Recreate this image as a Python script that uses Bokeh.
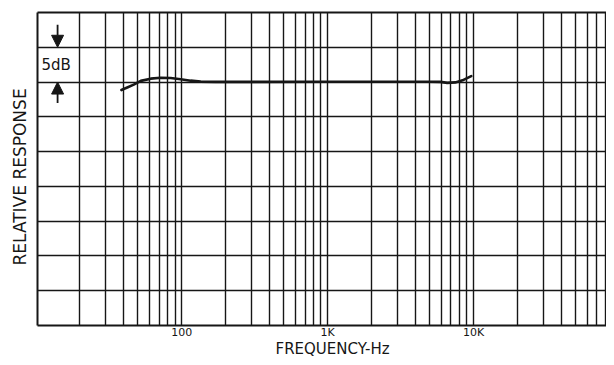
from bokeh.plotting import figure
from bokeh.models import FixedTicker, Range1d, Arrow, NormalHead, Label, LogAxis, Title
from bokeh.embed import file_html
from bokeh.resources import INLINE

# Response curve (frequency in Hz, relative response in dB)
freq_hz = [38.6, 42.7, 46.9, 52.4, 61.3, 71.8, 84.0, 98.4, 115, 135, 171, 300,
           1000, 3000, 5000, 5940, 6600, 7500, 8400, 9640]
response_db = [-1.15, -0.75, -0.37, 0.17, 0.49, 0.61, 0.58, 0.41, 0.20, 0.06, 0.02, 0.03,
               0.05, 0.05, 0.05, 0.03, -0.12, -0.05, 0.25, 0.85]

# Axis ticks and labels
x_tick_values = [100, 1000, 10000]
x_tick_labels = ["100", "1K", "10K"]
x_grid_values = [20, 30, 40, 50, 60, 70, 80, 90,
                 100, 200, 300, 400, 500, 600, 700, 800, 900,
                 1000, 2000, 3000, 4000, 5000, 6000, 7000, 8000, 9000,
                 10000, 20000, 30000, 40000, 50000, 60000, 70000, 80000, 90000]
y_grid_values = [-30, -25, -20, -15, -10, -5, 0, 5]
x_limits = (10.27, 81500)
y_limits = (-35, 10)
step_db = 5
x_title = "FREQUENCY-Hz"
y_title = "RELATIVE RESPONSE"

INK = "#161616"
FONT = "DejaVu Sans"

p = figure(width=606, height=357, x_axis_type="log",
           x_range=Range1d(*x_limits), y_range=Range1d(*y_limits),
           output_backend="svg", toolbar_location=None,
           min_border_left=37, min_border_right=0, min_border_top=12, min_border_bottom=26)

p.background_fill_color = "white"
p.border_fill_color = "white"
p.outline_line_color = None

# grid
p.xgrid.ticker = FixedTicker(ticks=x_grid_values)
p.ygrid.ticker = FixedTicker(ticks=y_grid_values)
for g in (p.xgrid, p.ygrid):
    g.grid_line_color = INK
    g.grid_line_width = 1.4
    g.grid_line_alpha = 1.0

def strip_ticks(ax):
    ax.major_tick_out = 0
    ax.major_tick_in = 0
    ax.minor_tick_out = 0
    ax.minor_tick_in = 0
    ax.axis_line_color = INK
    ax.axis_line_width = 2

# x axis (bottom frame edge)
xa = p.xaxis[0]
strip_ticks(xa)
xa.ticker = FixedTicker(ticks=x_tick_values)
xa.major_label_overrides = dict(zip(x_tick_values, x_tick_labels))
xa.major_label_standoff = 0
xa.major_label_text_font = FONT
xa.major_label_text_font_size = "11px"
xa.major_label_text_color = INK

# x title below the axis
p.add_layout(Title(text=x_title, align="left", offset=238, vertical_align="top",
                   standoff=-4, text_font=FONT, text_font_size="15px",
                   text_font_style="normal", text_color=INK), "below")

# y axis (left frame edge)
ya = p.yaxis[0]
strip_ticks(ya)
ya.ticker = FixedTicker(ticks=[])
ya.major_label_standoff = 0

# y title left of the frame
p.add_layout(Title(text=y_title, align="left", offset=60, vertical_align="middle",
                   standoff=14, text_font=FONT, text_font_size="17px",
                   text_font_style="normal", text_color=INK), "left")

# top frame edge
top = LogAxis(ticker=FixedTicker(ticks=[]), major_label_standoff=0)
strip_ticks(top)
p.add_layout(top, "above")

# response curve
p.line(freq_hz, response_db, line_color=INK, line_width=2.6, line_join="round", line_cap="round")

# 5 dB scale marker
marker_f = 14.1
p.add_layout(Arrow(x_start=marker_f, y_start=8.25, x_end=marker_f, y_end=step_db,
                   line_color=INK, line_width=1.8,
                   end=NormalHead(size=12, fill_color=INK, line_color=INK, line_width=1)))
p.add_layout(Arrow(x_start=marker_f, y_start=-3.0, x_end=marker_f, y_end=0,
                   line_color=INK, line_width=1.8,
                   end=NormalHead(size=12, fill_color=INK, line_color=INK, line_width=1)))
p.add_layout(Label(x=13.8, y=step_db / 2, text="5dB", text_font=FONT, text_font_size="15px",
                   text_color=INK, text_align="center", text_baseline="middle"))

open("out.html", "w").write(file_html(p, INLINE))
